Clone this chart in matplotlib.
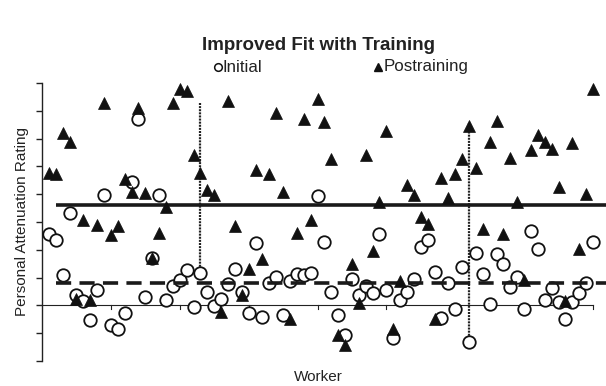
import matplotlib
matplotlib.use("Agg")
import matplotlib.pyplot as plt
from matplotlib.lines import Line2D
import numpy as np

plt.rcParams['font.family'] = ['Liberation Sans', 'DejaVu Sans']

# Worker index (x) and ratings before / after training
workers = list(range(1, 81))
initial = [2.58, 2.34, 1.08, 3.34, 0.36, 0.15, -0.54, 0.57, 3.96, -0.72,
           -0.84, -0.26, 4.44, 6.70, 0.32, 1.72, 3.96, 0.18, 0.70, 0.93,
           1.29, -0.06, 1.16, 0.50, -0.03, 0.24, 0.78, 1.32, 0.48, -0.26,
           2.26, -0.40, 0.82, 1.02, -0.34, 0.88, 1.12, 1.08, 1.18, 3.94,
           2.28, 0.50, -0.36, -1.06, 0.96, 0.39, 0.70, 0.46, 2.58, 0.54,
           -1.18, 0.21, 0.50, 0.94, 2.10, 2.34, 1.20, -0.44, 0.82, -0.12,
           1.38, -1.32, 1.90, 1.12, 0.06, 1.86, 1.48, 0.66, 1.02, -0.12,
           2.67, 2.02, 0.18, 0.64, 0.14, -0.50, 0.12, 0.46, 0.82, 2.28]
postraining = [4.78, 4.71, 6.21, 5.88, 0.24, 3.06, 0.18, 2.91, 7.28, 2.52,
               2.86, 4.54, 4.08, 7.09, 4.03, 1.72, 2.62, 3.54, 7.29, 7.78,
               7.71, 5.41, 4.77, 4.14, 3.96, -0.24, 7.36, 2.86, 0.36, 1.30,
               4.86, 1.66, 4.72, 6.93, 4.08, -0.48, 2.62, 6.69, 3.06, 7.41,
               6.58, 5.26, -1.08, -1.44, 1.48, 0.08, 5.41, 1.95, 3.72, 6.27,
               -0.84, 0.88, 4.32, 3.96, 3.18, 2.92, -0.48, 4.57, 3.88, 4.71,
               5.26, 6.46, 4.93, 2.74, 5.88, 6.63, 2.58, 5.32, 3.72, 0.93,
               5.59, 6.13, 5.88, 5.61, 4.26, 0.15, 5.83, 2.04, 3.99, 7.78]

# Reference levels and line span
initial_level = 0.79
post_level = 3.60
level_span = [2, 82]

# Worker-specific change markers: (worker, top, bottom)
change_lines = [(23, 7.28, 1.16), (62, 6.56, -1.32)]

y_ticks = list(range(-2, 9))
x_ticks = list(range(10, 81, 10))

fig = plt.figure(figsize=(6.06, 3.86), dpi=100)
ax = fig.add_axes([42 / 606, 1 - 361 / 386, (593 - 42) / 606, (361 - 83) / 386])

ax.set_xlim(0, 80)
ax.set_ylim(-2, 8)

# zero axis
ax.plot([0, 80], [0, 0], color='#222222', lw=0.8, zorder=1, clip_on=False)
for xt in x_ticks:
    ax.plot([xt, xt], [0, -0.12], color='#222222', lw=0.8, zorder=1, clip_on=False)

for w, top, bot in change_lines:
    ax.plot([w, w], [bot, top], color='#222222', lw=1.6,
            linestyle=(0, (0.9, 0.5)), zorder=2, clip_on=False)

ax.plot(workers, initial, linestyle='none', marker='o', markersize=9,
        markerfacecolor='white', markeredgecolor='#111111', markeredgewidth=1.3,
        zorder=3, clip_on=False)

ax.plot(level_span, [post_level, post_level], color='#1a1a1a', lw=2.6,
        solid_capstyle='butt', zorder=4, clip_on=False)
ax.plot(level_span, [initial_level, initial_level], color='#1a1a1a', lw=2.6,
        linestyle=(0, (4.2, 2.3)), zorder=4, clip_on=False)

ax.plot(workers, postraining, linestyle='none', marker='^', markersize=9,
        markerfacecolor='#111111', markeredgecolor='#111111', markeredgewidth=0.5,
        zorder=5, clip_on=False)

for s in ['top', 'right', 'bottom']:
    ax.spines[s].set_visible(False)
ax.spines['left'].set_linewidth(1.0)
ax.spines['left'].set_color('#222222')
ax.set_yticks(y_ticks)
ax.set_yticklabels([])
ax.set_xticks([])
ax.tick_params(axis='y', direction='out', length=4, width=1.0, color='#222222')

ax.set_ylabel('Personal Attenuation Rating', fontsize=11, color='#222222', labelpad=2)
fig.text(318 / 606, 1 - 377 / 386, 'Worker', fontsize=11, color='#222222',
         ha='center', va='center')
fig.text(318 / 606, 1 - 46 / 386, 'Improved Fit with Training', fontsize=13.5,
         fontweight='bold', color='#222222', ha='center', va='center')

# legend: marker followed directly by its label
legend_y = 1 - 67 / 386
fig.add_artist(Line2D([218 / 606], [legend_y], transform=fig.transFigure,
                      linestyle='none', marker='o', markersize=5.5,
                      markerfacecolor='white', markeredgecolor='#111111',
                      markeredgewidth=1.1))
fig.text(222 / 606, legend_y, 'Initial', fontsize=12.2, color='#222222',
         ha='left', va='center')
fig.add_artist(Line2D([378 / 606], [legend_y], transform=fig.transFigure,
                      linestyle='none', marker='^', markersize=6,
                      markerfacecolor='#111111', markeredgecolor='#111111'))
fig.text(384 / 606, legend_y, 'Postraining', fontsize=12.2, color='#222222',
         ha='left', va='center')

fig.savefig('out.png', dpi=100)
